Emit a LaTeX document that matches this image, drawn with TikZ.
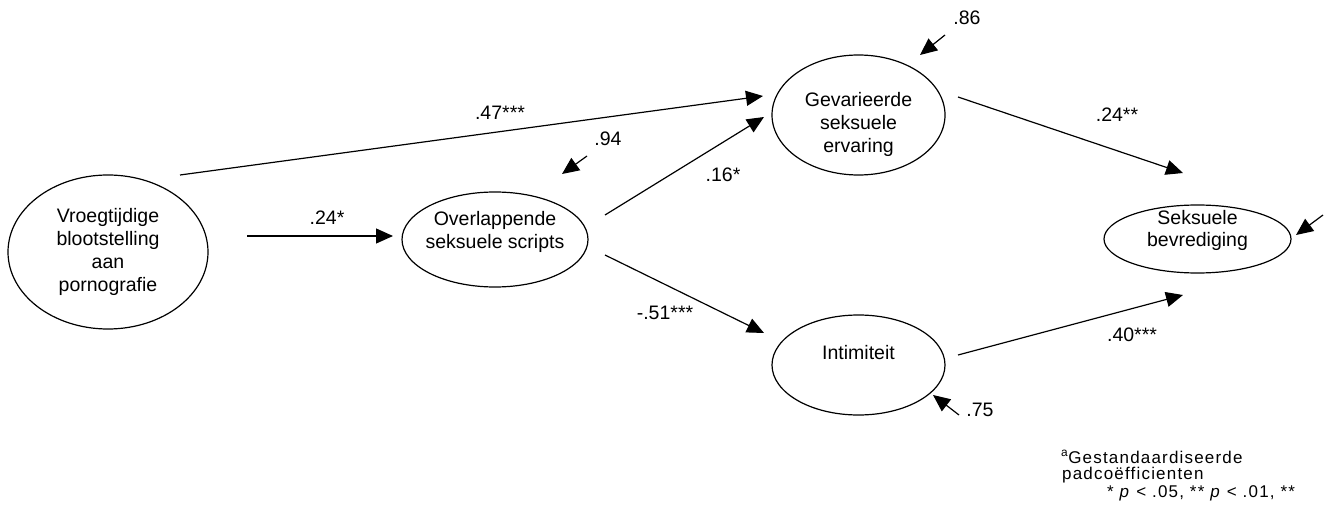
\documentclass[tikz,border=0pt]{standalone}
\usepackage{fontspec}
\setmainfont{Liberation Sans}
\newfontfamily\legfont[LetterSpace=7]{Liberation Sans}
\usetikzlibrary{arrows.meta, shapes.geometric, calc}
% text block moved up/down inside an ellipse
\newcommand{\textlift}[2]{\raisebox{#1}[\height][\depth]{\begin{tabular}{@{}c@{}}#2\end{tabular}}}

\begin{document}
\begin{tikzpicture}[x=1pt, y=-1pt,
    every node/.style={font=\fontsize{19.5}{22.7}\selectfont},
    ell/.style={ellipse, draw, line width=1.2pt, align=center, inner sep=0pt},
    arr/.style={line width=1.2pt, -{Triangle[length=17pt, width=15pt]}},
    leg/.style={anchor=west, inner sep=0pt, font=\fontsize{17}{18}\legfont}]
  \useasboundingbox (0,0) rectangle (1337,510);

  % variables
  \node[ell, minimum width=200pt, minimum height=154pt] (vroeg) at (108,252) {Vroegtijdige\\blootstelling\\aan\\pornografie};
  \node[ell, minimum width=186pt, minimum height=95pt, inner xsep=-4pt] (overlap) at (495,239.5) {\textlift{7pt}{Overlappende\\seksuele scripts}};
  \node[ell, minimum width=173pt, minimum height=120pt] (gev) at (858.5,115) {\textlift{-10pt}{Gevarieerde\\seksuele\\ervaring}};
  \node[ell, minimum width=173pt, minimum height=100pt] (intim) at (858.5,365) {\textlift{10pt}{Intimiteit}};
  \node[ell, minimum width=187pt, minimum height=68pt] (bevr) at (1197.5,239) {\textlift{8pt}{Seksuele\\bevrediging}};

  % paths
  \draw[arr] ([shift={(72,-77)}]vroeg.center) -- ([shift={(-95.5,-19)}]gev.center);
  \draw[arr] ([shift={(139,-16)}]vroeg.center) -- ([shift={(-102,-3.5)}]overlap.center);
  \draw[arr] ([shift={(110,-24.5)}]overlap.center) -- ([shift={(-94.5,2)}]gev.center);
  \draw[arr] ([shift={(110,15.5)}]overlap.center) -- ([shift={(-94.5,-32)}]intim.center);
  \draw[arr] ([shift={(99.5,-18)}]gev.center) -- ([shift={(-14.5,-66)}]bevr.center);
  \draw[arr] ([shift={(99.5,-10)}]intim.center) -- ([shift={(-14.5,56)}]bevr.center);

  % residuals
  \draw[arr] ([shift={(86.5,-80)}]gev.center) -- ([shift={(61.5,-60)}]gev.center);
  \draw[arr] ([shift={(92,-83.5)}]overlap.center) -- ([shift={(67,-65.5)}]overlap.center);
  \draw[arr] ([shift={(100.5,50)}]intim.center) -- ([shift={(74.5,30)}]intim.center);
  \draw[arr] ([shift={(125.5,-24)}]bevr.center) -- ([shift={(98.5,-4)}]bevr.center);

  % coefficients
  \node (l47) at (500,113) {.47***};
  \node (l24a) at (327,218) {.24*};
  \node (l16) at (723,175) {.16*};
  \node (l51) at (665,313) {-.51***};
  \node (l24b) at (1117,115) {.24**};
  \node (l40) at (1132,335) {.40***};
  \node (l86) at (967,18) {.86};
  \node (l94) at (608,139) {.94};
  \node (l75) at (980,410) {.75};

  % legend
  \node[leg] (leg1) at (1061,457) {\textsuperscript{a}Gestandaardiseerde};
  \node[leg] (leg2) at (1062,475) {padcoëfficienten};
  \node[leg] (leg3) at (1107,493) {* \textit{p} < .05, ** \textit{p} < .01, **};
\end{tikzpicture}
\end{document}
